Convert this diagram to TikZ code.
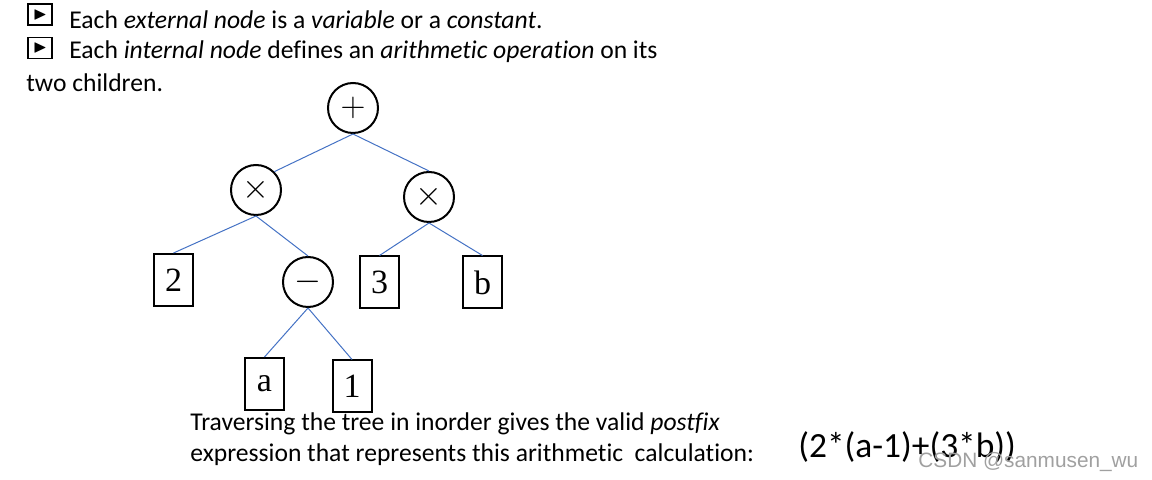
\documentclass[tikz,border=0pt]{standalone}
\usepackage{fontspec}
\usepackage{amssymb}
\setmainfont{Carlito}[Ligatures={NoCommon}]
\newfontfamily\treefont{Liberation Serif}
\newfontfamily\markfont{Liberation Sans}
\usetikzlibrary{calc, positioning}
\definecolor{edgeblue}{RGB}{68,114,196}
\definecolor{markgray}{RGB}{160,160,160}
\tikzset{
  opnode/.style={draw, line width=1pt, circle, minimum size=25pt, inner sep=0pt, font=\treefont\fontsize{17}{17}\selectfont},
  leafnode/.style={draw, line width=1pt, rectangle, minimum width=19.5pt, minimum height=26pt, inner sep=0pt, font=\treefont\fontsize{17}{17}\selectfont},
  treeedge/.style={draw=edgeblue, line width=0.5pt},
  bulletbox/.style={draw, line width=0.8pt, minimum width=12pt, minimum height=10.5pt, inner sep=0pt},
  bodytext/.style={anchor=west, inner sep=0pt, font=\fontsize{12.8}{14}\selectfont}
}
\begin{document}
\begin{tikzpicture}[x=0.5pt, y=-0.5pt]
\useasboundingbox (0,0) rectangle (1152,480);

% bullet lines
\node[bulletbox] (bulA) at (40,14.5) {\fontsize{9}{9}\selectfont$\blacktriangleright$};
\node[bulletbox] (bulB) at (40,48) {\fontsize{9}{9}\selectfont$\blacktriangleright$};
\node[bodytext] (lineA) at (69,20) {Each \textit{external node} is a \textit{variable} or a \textit{constant}.};
\node[bodytext] (lineB) at (69,52) {Each \textit{internal node} defines an \textit{arithmetic operation} on its};
\node[bodytext] (lineC) at (26,83) {two children.};

% operators
\node[opnode] (plus) at (353,108) {$+$};
\node[opnode] (timesL) at (256,190) {$\times$};
\node[opnode] (timesR) at (429,197) {$\times$};
\node[opnode] (minus) at (308,282) {$-$};

% operands
\node[leafnode] (two) at (173.5,280) {2};
\node[leafnode] (three) at (379.5,282.5) {3};
\node[leafnode] (varb) at (482.5,282.5) {b};
\node[leafnode] (vara) at (264.5,384) {a};
\node[leafnode] (one) at (352,386.5) {1};

% edges
\draw[treeedge] (plus.south) -- (timesL.45);
\draw[treeedge] (plus.south) -- (timesR.north);
\draw[treeedge] (timesL.south) -- (two.north);
\draw[treeedge] (timesL.south) -- (minus.north);
\draw[treeedge] (timesR.south) -- (three.north);
\draw[treeedge] (timesR.south) -- (varb.north);
\draw[treeedge] (minus.south) -- (vara.north);
\draw[treeedge] (minus.south) -- (one.north);

% caption
\node[bodytext] (capA) at (190,424) {Traversing the tree in inorder gives the valid\ \textit{postfix}};
\node[bodytext] (capB) at (190,455) {expression that represents this arithmetic\ \ calculation:};
\node[anchor=west, inner sep=0pt, font=\fontsize{17.7}{18}\selectfont] (expr) at (798,447) {(2*(a-1)+(3*b))};
\node[anchor=west, inner sep=0pt, text=markgray, font=\markfont\fontsize{10.4}{11}\selectfont] (mark) at (918,462) {CSDN @sanmusen\_wu};
\end{tikzpicture}
\end{document}
